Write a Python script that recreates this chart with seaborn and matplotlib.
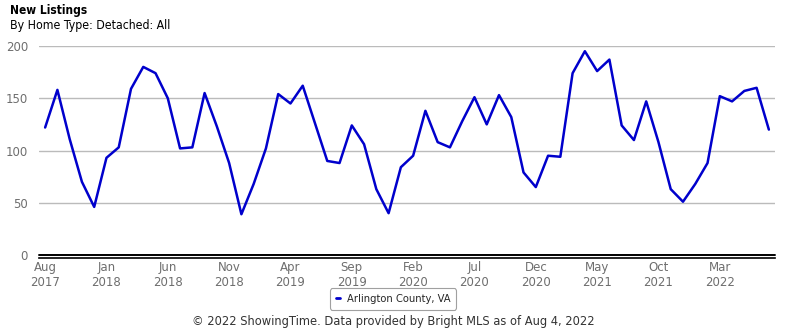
import matplotlib
matplotlib.use("Agg")
import matplotlib.pyplot as plt
import seaborn as sns
import pandas as pd
import numpy as np

# Monthly new listings, Aug 2017 - Jul 2022
months = pd.date_range("2017-08-01", "2022-07-01", freq="MS")
new_listings = [
    122, 158, 111, 70, 46,                                   # 2017 Aug-Dec
    93, 103, 159, 180, 174, 150, 102, 103, 155, 123, 88, 39,  # 2018
    68, 102, 154, 145, 162, 126, 90, 88, 124, 106, 63, 40,    # 2019
    84, 95, 138, 108, 103, 128, 151, 125, 153, 132, 79, 65,   # 2020
    95, 94, 174, 195, 176, 187, 124, 110, 147, 108, 63, 51,   # 2021
    68, 88, 152, 147, 157, 160, 120,                          # 2022 Jan-Jul
]
series_name = "Arlington County, VA"
y_ticks = [0, 50, 100, 150, 200]

df = pd.DataFrame({
    "idx": np.arange(len(months)),
    "value": new_listings,
    "area": series_name,
})

sns.set_theme(style="white")
plt.rcParams["font.family"] = ["DejaVu Sans"]

fig = plt.figure(figsize=(7.85, 3.30), dpi=100)
ax = fig.add_axes([39 / 785, 1 - 255 / 330, (775 - 39) / 785, (255 - 46) / 330])

line_color = "#0000CC"
sns.lineplot(data=df, x="idx", y="value", hue="area", palette=[line_color],
             linewidth=1.8, ax=ax, legend=False)

ax.set_xlim(-0.5, len(months) - 0.5)
ax.set_ylim(0, 200)
ax.yaxis.grid(True, color="#BBBBBB", linewidth=1)
ax.xaxis.grid(False)
ax.set_xlabel("")
ax.set_ylabel("")

ax.tick_params(axis="both", length=0, labelcolor="#6E6E6E", labelsize=8.5)
ax.tick_params(axis="x", pad=2)
ax.tick_params(axis="y", pad=8)

ax.set_yticks(y_ticks)
ax.set_yticklabels([str(v) for v in y_ticks])

tick_pos = list(range(0, len(months), 5))
ax.set_xticks(tick_pos)
ax.set_xticklabels([f"{months[i]:%b}\n{months[i]:%Y}" for i in tick_pos],
                   linespacing=1.15)
for lab in ax.get_xticklabels():
    lab.set_fontsize(8.3)
    lab.set_color("#6E6E6E")
    lab.set_fontstretch("condensed")

for s in ["top", "right", "left"]:
    ax.spines[s].set_visible(False)
ax.spines["bottom"].set_color("black")
ax.spines["bottom"].set_linewidth(1.2)
ax.spines["bottom"].set_position(("outward", 2))
ax.axhline(0, color="black", linewidth=1.4, clip_on=False, zorder=3)

fig.text(10 / 785, 1 - 4 / 330, "New Listings", fontsize=8.6, fontweight="bold",
         va="top", ha="left", color="black", fontstretch="condensed")
fig.text(10 / 785, 1 - 19 / 330, "By Home Type: Detached: All", fontsize=8.8,
         va="top", ha="left", color="black", fontstretch="condensed")

handle = plt.Line2D([], [], color=line_color, linewidth=2)
leg = fig.legend([handle], [series_name], loc="center",
                 bbox_to_anchor=(393 / 785, 1 - 299 / 330),
                 fontsize=8.0, frameon=True, handlelength=0.4,
                 handletextpad=0.6, borderpad=0.5, borderaxespad=0,
                 fancybox=True)
leg.get_frame().set_edgecolor("#888888")
leg.get_frame().set_linewidth(0.8)
for t in leg.get_texts():
    t.set_fontstretch("condensed")

fig.text(393 / 785, 1 - 321 / 330,
         "\u00a9 2022 ShowingTime. Data provided by Bright MLS as of Aug 4, 2022",
         fontsize=8.3, ha="center", va="center", color="#333333")

fig.savefig("out.png", dpi=100)
